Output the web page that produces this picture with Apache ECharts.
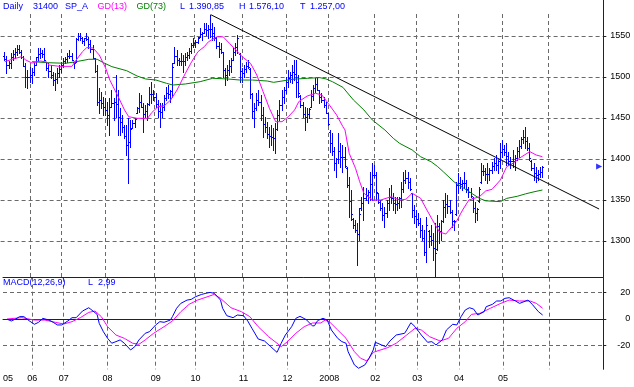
<!DOCTYPE html>
<html><head><meta charset="utf-8">
<script src="https://cdn.jsdelivr.net/npm/echarts@6/dist/echarts.min.js"></script>
<style>html,body{margin:0;padding:0;background:#fff}#c{width:634px;height:387px}</style>
</head><body><div id="c"></div>
<script>
// ---- data (bar index 0 = first daily bar) ----
const highs = [1531,1525,1519,1529,1533,1535,1539,1539,1533,1525,
1517,1509,1512,1511,1517,1524,1535,1535,1533,1535,
1518,1517,1515,1506,1505,1511,1515,1518,1523,1524,
1529,1533,1529,1518,1548,1554,1554,1549,1548,1554,
1549,1545,1539,1523,1515,1487,1482,1476,1474,1470,
1474,1484,1474,1502,1484,1462,1454,1441,1441,1450,
1448,1448,1450,1463,1480,1478,1468,1466,1468,1488,
1494,1484,1480,1472,1468,1468,1478,1488,1490,1484,
1517,1537,1533,1523,1529,1527,1529,1530,1535,1541,
1548,1545,1549,1560,1555,1566,1566,1563,1576.1,1566,
1561,1549,1543,1541,1531,1511,1515,1521,1523,1535,
1541,1551,1529,1511,1515,1518,1521,1511,1480,1468,
1480,1484,1478,1463,1451,1445,1439,1441,1438,1444,
1460,1472,1484,1488,1500,1509,1506,1515,1521,1521,
1502,1478,1470,1463,1462,1462,1484,1490,1499,1499,
1484,1480,1476,1470,1456,1435,1432,1415,1401,1432,
1420,1417,1415,1390,1378,1362,1328,1326,1322,1340,
1354,1366,1365,1362,1384,1395,1393,1384,1359,1350,
1346,1341,1350,1365,1368,1359,1354,1354,1354,1372,
1384,1387,1384,1377,1359,1344,1338,1334,1328,1320,
1313,1329,1313,1320,1310,1322,1332,1322,1326,1350,
1359,1356,1350,1338,1326,1372,1383,1378,1374,1384,
1374,1366,1365,1354,1348,1340,1366,1395,1393,1389,
1395,1389,1396,1401,1405,1399,1420,1423,1417,1420,
1409,1402,1411,1405,1415,1423,1427,1435,1439,1427,
1420,1399,1395,1390,1387,1390,1392];
const lows = [1521,1505,1511,1511,1521,1523,1527,1529,1523,1513,
1488,1487,1494,1493,1502,1515,1521,1523,1524,1521,
1509,1500,1499,1490,1484,1493,1500,1506,1512,1517,
1518,1523,1521,1511,1518,1545,1545,1541,1539,1545,
1535,1530,1523,1506,1466,1456,1462,1454,1454,1441,
1429,1463,1448,1451,1429,1429,1433,1426,1405,1371,
1415,1438,1439,1456,1457,1463,1433,1451,1448,1466,
1468,1472,1463,1451,1439,1451,1460,1472,1474,1470,
1476,1517,1515,1515,1515,1506,1515,1521,1523,1529,
1537,1537,1541,1549,1545,1554,1551,1548,1549,1545,
1545,1535,1524,1529,1500,1490,1496,1502,1506,1521,
1527,1529,1494,1494,1500,1506,1511,1474,1450,1439,
1460,1466,1448,1427,1433,1426,1415,1417,1411,1407,
1435,1448,1460,1468,1480,1488,1494,1493,1496,1476,
1476,1463,1451,1435,1445,1450,1463,1472,1482,1484,
1468,1470,1463,1456,1441,1409,1405,1387,1378,1395,
1390,1384,1390,1366,1329,1326,1316,1311,1271,1301,
1338,1326,1350,1346,1350,1350,1378,1350,1346,1338,
1326,1317,1329,1338,1346,1338,1334,1338,1340,1341,
1360,1371,1365,1362,1329,1322,1317,1320,1305,1301,
1283,1274,1293,1295,1277,1257,1289,1298,1301,1323,
1329,1334,1334,1317,1313,1332,1359,1365,1362,1365,
1360,1354,1354,1335,1323,1326,1348,1371,1380,1374,
1371,1374,1383,1387,1387,1383,1389,1402,1405,1393,
1393,1389,1390,1387,1399,1402,1413,1420,1413,1411,
1399,1387,1374,1372,1374,1378,1378];
const opens = [1526,1522,1515,1517,1524,1528,1531,1534,1531,1524,
1514,1500,1500,1502,1506,1515,1524,1528,1529,1528,
1518,1511,1507,1502,1496,1498,1505,1510,1515,1519,
1522,1526,1526,1518,1518,1546,1550,1547,1544,1547,
1546,1540,1534,1523,1507,1470,1472,1468,1464,1460,
1454,1463,1468,1469,1467,1451,1445,1439,1428,1417,
1421,1438,1444,1456,1462,1470,1464,1455,1458,1467,
1479,1479,1475,1467,1458,1457,1464,1474,1481,1479,
1483,1517,1525,1521,1520,1519,1519,1524,1527,1532,
1539,1542,1543,1549,1552,1554,1559,1557,1559,1559,
1554,1547,1538,1534,1530,1508,1503,1509,1513,1521,
1531,1537,1528,1507,1505,1510,1514,1510,1479,1459,
1462,1472,1469,1454,1443,1439,1431,1428,1427,1426,
1437,1454,1466,1475,1484,1494,1499,1502,1506,1504,
1494,1477,1466,1455,1451,1455,1464,1477,1486,1491,
1484,1475,1472,1466,1456,1433,1420,1410,1395,1400,
1410,1403,1402,1389,1368,1349,1327,1320,1313,1309,
1340,1346,1352,1356,1360,1370,1380,1380,1358,1348,
1340,1332,1334,1346,1354,1353,1346,1345,1346,1352,
1364,1375,1377,1372,1358,1338,1330,1327,1322,1314,
1304,1287,1312,1306,1301,1292,1290,1318,1312,1325,
1341,1345,1343,1335,1324,1333,1368,1371,1370,1371,
1371,1364,1360,1353,1340,1334,1349,1372,1385,1385,
1382,1382,1386,1392,1395,1393,1398,1409,1412,1409,
1404,1398,1398,1398,1401,1410,1416,1424,1427,1422,
1414,1398,1389,1383,1381,1382,1384];
const closes = [1522,1515,1517,1524,1528,1531,1534,1531,1524,1514,
1500,1500,1502,1506,1515,1524,1528,1529,1528,1521,
1511,1507,1502,1496,1498,1505,1510,1515,1519,1522,
1526,1526,1521,1517,1546,1550,1547,1544,1547,1546,
1540,1534,1523,1507,1470,1472,1468,1464,1460,1454,
1463,1468,1469,1467,1451,1445,1439,1428,1417,1421,
1437,1444,1449,1462,1470,1464,1455,1458,1467,1479,
1479,1475,1467,1458,1457,1464,1474,1481,1479,1483,
1512,1525,1521,1520,1519,1519,1524,1527,1532,1539,
1542,1543,1548,1552,1554,1559,1557,1559,1559,1554,
1547,1538,1534,1530,1508,1503,1509,1513,1521,1531,
1537,1547,1507,1505,1510,1514,1512,1479,1459,1462,
1472,1469,1454,1443,1439,1431,1428,1427,1426,1437,
1454,1466,1475,1484,1494,1499,1502,1506,1504,1494,
1480,1466,1455,1451,1455,1461,1477,1486,1491,1484,
1475,1472,1466,1456,1443,1420,1410,1395,1400,1410,
1403,1402,1391,1368,1349,1333,1320,1313,1309,1333,
1346,1352,1356,1360,1370,1380,1380,1360,1348,1340,
1332,1334,1346,1354,1353,1346,1345,1346,1352,1364,
1375,1377,1372,1363,1338,1330,1327,1322,1314,1304,
1287,1320,1306,1301,1292,1285,1318,1312,1325,1341,
1345,1343,1335,1324,1324,1368,1371,1370,1371,1371,
1364,1360,1355,1340,1334,1339,1364,1385,1385,1382,
1382,1386,1392,1395,1393,1398,1409,1412,1409,1404,
1398,1398,1398,1401,1410,1416,1424,1427,1422,1414,
1401,1389,1383,1381,1382,1384,1390.85];

// moving averages and MACD: [bar index, value]
const gd13 = [[0,1518.7],[4,1522],[8,1524.8],[10,1520.7],[13,1517],[17,1519.5],[20,1518.3],[21,1514.6],[26,1513],[32,1513],[34,1520.7],[37,1530.9],[39,1535.8],[42,1535.4],[45,1526.8],[48,1511],[50,1496.3],[54,1476],[57,1459.8],[59,1451.6],[63,1449.6],[68,1449.6],[70,1456.7],[73,1463.8],[76,1465],[79,1472],[82,1484.1],[86,1504.5],[89,1518.7],[92,1530.9],[95,1537],[97,1543],[101,1549],[104,1549],[107,1541],[110,1533],[113,1524.8],[117,1516.7],[120,1502.4],[123,1482.1],[126,1461.8],[129,1445.5],[132,1445.5],[135,1451.6],[138,1459.8],[140,1470],[144,1476.8],[148,1480.1],[151,1478],[154,1467.9],[158,1453.7],[161,1439.4],[162,1435.4],[164,1407],[167,1388.7],[169,1372.3],[171,1358.2],[175,1350],[179,1350],[184,1354],[188,1350],[191,1350.9],[194,1358.2],[198,1352.1],[201,1337.8],[205,1319.5],[207,1311],[210,1308.5],[215,1323.5],[218,1337.8],[221,1350],[226,1354],[229,1361],[232,1363],[236,1374.4],[239,1390.6],[242,1394.8],[245,1400.9],[250,1409],[253,1404.9],[256,1402.8]];
const gd73 = [[13,1518.7],[21,1517.4],[29,1516.7],[34,1518.7],[40,1521.6],[44,1521.6],[47,1517.4],[51,1512.6],[58,1507.7],[63,1501.2],[67,1497.6],[72,1496.3],[77,1492.3],[80,1490.2],[86,1491.5],[93,1494.3],[99,1498.4],[106,1497.6],[112,1496.3],[118,1496.3],[125,1495.1],[128,1493.5],[132,1495.1],[137,1497.2],[144,1498.4],[150,1499.2],[153,1497.6],[156,1494.3],[161,1487.4],[166,1472],[171,1459.8],[175,1447.6],[181,1435.4],[185,1425.2],[188,1419.1],[194,1411],[198,1402.8],[203,1396.7],[206,1391],[209,1384],[214,1372],[220,1362],[226,1352],[229,1349],[236,1348],[239,1352],[244,1354.5],[248,1357.5],[252,1360],[256,1362.2]];
const macdLine = [[0,-0.2],[2,-1.5],[4,0],[6,1.8],[8,1.8],[10,-0.8],[13,-4],[15,-2.5],[17,0.5],[20,-0.8],[22,-2.5],[24,-4.5],[26,-4.5],[29,-1.5],[31,1],[33,1],[36,6],[39,8.5],[40,7.3],[43,3.5],[44,-3.3],[46,-9.6],[48,-14.6],[50,-18.3],[52,-17.1],[54,-15.8],[56,-18.3],[59,-23.4],[61,-20.9],[63,-15.8],[66,-10.8],[68,-9.6],[71,-4.5],[73,-2],[75,-2.5],[78,-0.8],[79,1.8],[81,8.1],[83,11.8],[86,14.3],[88,14.8],[90,16.8],[93,18.6],[95,19.4],[97,20.1],[99,19.4],[102,14.3],[103,8.1],[105,2.5],[108,1],[110,3],[113,2.5],[115,-1.5],[117,-7],[120,-15.1],[123,-16.6],[126,-20.9],[129,-25.2],[131,-18.3],[133,-12.1],[136,-5.8],[138,0.5],[140,2],[143,-0.5],[146,-5.3],[147,-5],[148,-2],[149,-0.8],[151,0.5],[153,-0.8],[155,-8.3],[158,-14.6],[160,-17.1],[162,-18.3],[163,-24.7],[166,-34.7],[168,-37.2],[171,-34.7],[173,-29.7],[175,-23.4],[176,-17.6],[179,-19.6],[181,-20.9],[183,-16.6],[186,-12.1],[190,-10.8],[191,-8.3],[193,-2.8],[195,-5.8],[198,-12.1],[201,-17.6],[203,-17.1],[205,-19.6],[208,-15.8],[210,-8.3],[213,-4],[215,-4.5],[217,1.8],[219,6.8],[221,8.5],[223,7.5],[225,3],[228,5.5],[229,9.3],[232,11.1],[234,13.6],[236,13.6],[238,15.6],[240,16.1],[243,13.6],[245,11.8],[249,14.3],[251,11.1],[254,5.5],[256,2.99]];
const signalLine = [[0,0],[7,1],[13,-0.8],[18,-0.8],[23,-2.5],[27,-3.8],[31,-2],[35,1],[39,5],[42,6],[45,1.8],[48,-5.8],[52,-12.1],[56,-14.6],[60,-18.3],[63,-19.1],[66,-15.8],[70,-10.8],[75,-5.8],[79,-1.5],[83,5.5],[87,11.1],[91,14.3],[95,16.4],[99,18.6],[102,15.6],[107,8.5],[112,5.5],[116,1.8],[120,-5.8],[125,-13.4],[129,-18.3],[131,-20.9],[134,-17.1],[138,-10.8],[142,-5.8],[146,-3],[150,-3],[152,-0.8],[154,-2],[158,-8.3],[162,-14.6],[166,-24.7],[169,-29.7],[172,-31.7],[175,-25.2],[182,-21.6],[186,-18.3],[191,-12.1],[195,-7],[198,-8.3],[202,-13.4],[207,-16.6],[211,-14.6],[215,-7],[219,-2],[222,3.5],[226,4.3],[231,8.1],[236,11.8],[240,14.3],[245,13.6],[250,13.6],[253,11.8],[256,8.1]];
const trendLine = [[98,1576.1],[283,1339]];

// axis labels
const monthLabels = ['05','06','07','08','09','10','11','12','2008','02','03','04','05',''];
const monthSlots  = [-2,12,27,48,71,90,113,134,154,176,196,216,237,259]; // bar index of month start
const priceTicks = [1300,1350,1400,1450,1500,1550];
const macdTicks = [-20,0,20];

// ---- layout helpers ----
const LEAD = 2, NCAT = 288;
const cats = Array.from({length: NCAT}, (_, i) => String(i));
const labelMap = new Map(monthSlots.map((s, i) => [s + LEAD, monthLabels[i]]));
const gridSet = new Set(monthSlots.slice(1).map(s => s + LEAD));
const shift = arr => arr.map(p => [p[0] + LEAD, p[1]]);
const FONT = 'Liberation Sans';
const GRID_COLOR = '#6a6a6a';
const DASH = [4, 3];
const BLUE = '#0000ff', MAG = '#ff00ff', GREEN = '#008000';

const ohlc = highs.map((h, i) => [i + LEAD, opens[i], closes[i], lows[i], h]);

const chart = echarts.init(document.getElementById('c'), null, {renderer: 'canvas'});

const xBase = {
  type: 'category', data: cats, boundaryGap: false,
  axisTick: {show: false}, axisLabel: {show: false}, axisLine: {show: false},
  splitLine: {show: true, interval: (i) => gridSet.has(i), lineStyle: {color: GRID_COLOR, type: DASH, width: 1}}
};
const txt = (t, x, y, c) => ({type: 'text', z: 5, x: x, y: y,
  style: {text: t, fill: c, font: '9px "' + FONT + '"', textVerticalAlign: 'middle'}});

chart.setOption({
  animation: false,
  backgroundColor: '#fff',
  grid: [
    {left: 0.6, width: 602.7, top: 0, height: 277},
    {left: 0.6, width: 602.7, top: 277.7, height: 91.6}
  ],
  xAxis: [
    Object.assign({}, xBase, {gridIndex: 0}),
    Object.assign({}, xBase, {gridIndex: 1,
      axisLine: {show: true, lineStyle: {color: '#222', width: 1}},
      axisLabel: {show: true, interval: (i) => labelMap.has(i), formatter: (v, i) => labelMap.get(i) || '',
        color: '#000', fontSize: 9, fontFamily: FONT, margin: 5, alignMinLabel: 'left'}}),
    {type: 'category', data: cats, boundaryGap: false, gridIndex: 1, position: 'top',
      axisLine: {show: true, lineStyle: {color: '#222', width: 1}}, axisTick: {show: false},
      axisLabel: {show: false}, splitLine: {show: false}}
  ],
  yAxis: [
    {type: 'value', gridIndex: 0, position: 'right', min: 1256.1, max: 1593.9, splitNumber: 6,
      axisLine: {show: true, lineStyle: {color: '#222', width: 1}},
      axisTick: {show: true, length: 3, lineStyle: {color: '#222'}},
      axisLabel: {color: '#000', fontSize: 9, fontFamily: FONT, align: 'right', margin: 27,
        showMinLabel: false, showMaxLabel: false,
        formatter: v => priceTicks.includes(v) ? String(v) : ''},
      splitLine: {show: true, showMinLine: false, showMaxLine: false, lineStyle: {color: GRID_COLOR, type: DASH, width: 1}}},
    {type: 'value', gridIndex: 1, position: 'right', min: -38, max: 31.2, splitNumber: 3,
      axisLine: {show: true, lineStyle: {color: '#222', width: 1}},
      axisTick: {show: true, length: 3, lineStyle: {color: '#222'}},
      axisLabel: {color: '#000', fontSize: 9, fontFamily: FONT, align: 'right', margin: 27,
        showMinLabel: false, showMaxLabel: false,
        formatter: v => macdTicks.includes(v) ? String(v) : ''},
      splitLine: {show: true, showMinLine: false, showMaxLine: false, lineStyle: {color: GRID_COLOR, type: DASH, width: 1}}}
  ],
  graphic: [
    {type: 'rect', z: 1, shape: {x: 0, y: 0, width: 602, height: 11}, style: {fill: '#fff'}},
    txt('Daily', 3, 6.5, BLUE), txt('31400', 33, 6.5, BLUE), txt('SP_A', 65, 6.5, BLUE),
    txt('GD(13)', 97.5, 6.5, MAG), txt('GD(73)', 136.5, 6.5, GREEN),
    txt('L', 180, 6.5, BLUE), txt('1.390,85', 189, 6.5, BLUE),
    txt('H', 239, 6.5, BLUE), txt('1.576,10', 249, 6.5, BLUE),
    txt('T', 300, 6.5, BLUE), txt('1.257,00', 310, 6.5, BLUE),
    txt('MACD(12,26,9)', 3, 282.5, BLUE), txt('L', 88, 282.5, BLUE), txt('2,99', 98, 282.5, BLUE)
  ],
  series: [
    {type: 'custom', name: 'SP_A', xAxisIndex: 0, yAxisIndex: 0, z: 3, data: ohlc, silent: true,
      itemStyle: {color: BLUE}, encode: {x: 0, y: [1, 2, 3, 4]},
      renderItem: function (params, api) {
        const x = api.value(0);
        const pO = api.coord([x, api.value(1)]);
        const pC = api.coord([x, api.value(2)]);
        const pL = api.coord([x, api.value(3)]);
        const pH = api.coord([x, api.value(4)]);
        const cx = Math.round(pH[0] - 0.5) + 0.5;
        const top = Math.round(pH[1]), bot = Math.round(pL[1]) + 1;
        const yo = Math.round(pO[1]) + 0.5, yc = Math.round(pC[1]) + 0.5;
        const st = {stroke: BLUE, fill: null, lineWidth: 1};
        return {type: 'group', children: [
          {type: 'line', shape: {x1: cx, y1: top, x2: cx, y2: bot}, style: st},
          {type: 'line', shape: {x1: cx - 1.5, y1: yo, x2: cx, y2: yo}, style: st},
          {type: 'line', shape: {x1: cx, y1: yc, x2: cx + 1.5, y2: yc}, style: st}
        ]};
      }},
    {type: 'line', name: 'GD(73)', xAxisIndex: 0, yAxisIndex: 0, z: 4, data: shift(gd73), showSymbol: false, silent: true,
      lineStyle: {color: GREEN, width: 1}, itemStyle: {color: GREEN}},
    {type: 'line', name: 'GD(13)', xAxisIndex: 0, yAxisIndex: 0, z: 4, data: shift(gd13), showSymbol: false, silent: true,
      lineStyle: {color: MAG, width: 1}, itemStyle: {color: MAG}},
    {type: 'line', name: 'trend', xAxisIndex: 0, yAxisIndex: 0, z: 4, data: shift(trendLine), showSymbol: false, silent: true,
      lineStyle: {color: '#000', width: 1}, itemStyle: {color: '#000'}},
    {type: 'scatter', name: 'last', xAxisIndex: 0, yAxisIndex: 0, z: 5, silent: true,
      data: [[285, closes[closes.length - 1]]], symbol: 'triangle', symbolRotate: -90, symbolSize: [6, 6],
      itemStyle: {color: BLUE}},
    {type: 'line', name: 'MACD', xAxisIndex: 1, yAxisIndex: 1, z: 4, data: shift(macdLine), showSymbol: false, silent: true,
      lineStyle: {color: BLUE, width: 1}, itemStyle: {color: BLUE}},
    {type: 'line', name: 'Signal', xAxisIndex: 1, yAxisIndex: 1, z: 3, data: shift(signalLine), showSymbol: false, silent: true,
      lineStyle: {color: MAG, width: 1}, itemStyle: {color: MAG}}
  ]
});
</script>
</body></html>
